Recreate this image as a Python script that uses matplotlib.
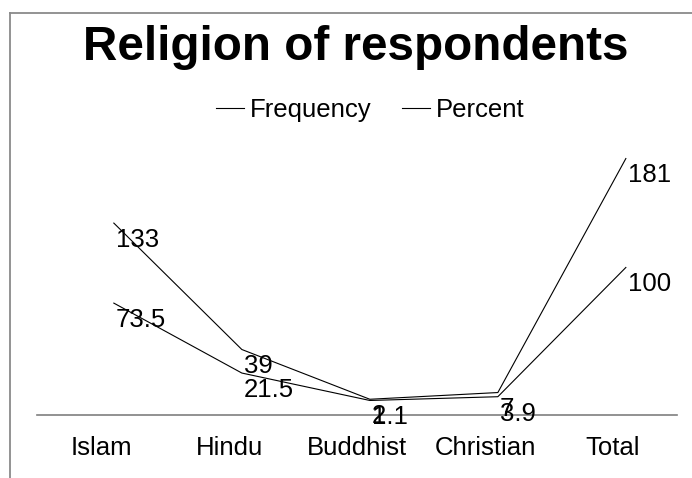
import matplotlib.pyplot as plt
from matplotlib.lines import Line2D

plt.rcParams['font.family'] = ['Liberation Sans', 'DejaVu Sans']

#%% data
religions = ['Islam', 'Hindu', 'Buddhist', 'Christian', 'Total']
frequency = [133, 39, 2, 7, 181]
percent = [73.5, 21.5, 1.1, 3.9, 100]

#%% figure
fig = plt.figure(figsize=(6.92, 4.78), dpi=100)
ax = fig.add_axes([0.0535, 0.1318, 0.9249, 0.59])

xs = [i + 0.1 for i in range(len(religions))]  # points sit a bit right of the labels
ax.plot(xs, frequency, color='black', lw=0.8, label='Frequency')
ax.plot(xs, percent, color='black', lw=0.8, label='Percent')

for x, v in zip(xs, frequency):
    ax.annotate('{:g}'.format(v), (x, v), xytext=(1.5, -3.5), textcoords='offset points',
                ha='left', va='top', fontsize=18.5)
for x, v in zip(xs, percent):
    ax.annotate('{:g}'.format(v), (x, v), xytext=(1.5, -3.5), textcoords='offset points',
                ha='left', va='top', fontsize=18.5)

ax.set_xlim(-0.5, 4.5)
ax.set_ylim(-9.7, 200)
ax.set_xticks(range(len(religions)))
ax.set_xticklabels(religions, fontsize=18.5)
ax.set_yticks([])
ax.tick_params(axis='x', length=0, pad=15)
for s in ['top', 'right', 'left']:
    ax.spines[s].set_visible(False)
ax.spines['bottom'].set_color('#7f7f7f')
ax.spines['bottom'].set_linewidth(1.2)

# outer frame (runs off the right and bottom edge)
fx = 9.5 / 692
fy = 1 - 12.5 / 478
fig.add_artist(Line2D([fx, 1.01], [fy, fy], transform=fig.transFigure, color='#8a8a8a', lw=1.3))
fig.add_artist(Line2D([fx, fx], [-0.01, fy], transform=fig.transFigure, color='#8a8a8a', lw=1.3))

fig.text(356 / 692, 1 - 60 / 478, 'Religion of respondents', ha='center', va='baseline',
         fontsize=34.3, fontweight='bold')

ax.legend(loc='center', bbox_to_anchor=(370 / 692, 1 - 110 / 478), bbox_transform=fig.transFigure,
          ncol=2, frameon=False, fontsize=18.5, handlelength=1.1, handletextpad=0.23,
          columnspacing=1.17, borderpad=0, borderaxespad=0)

fig.savefig('out.png', dpi=100)
